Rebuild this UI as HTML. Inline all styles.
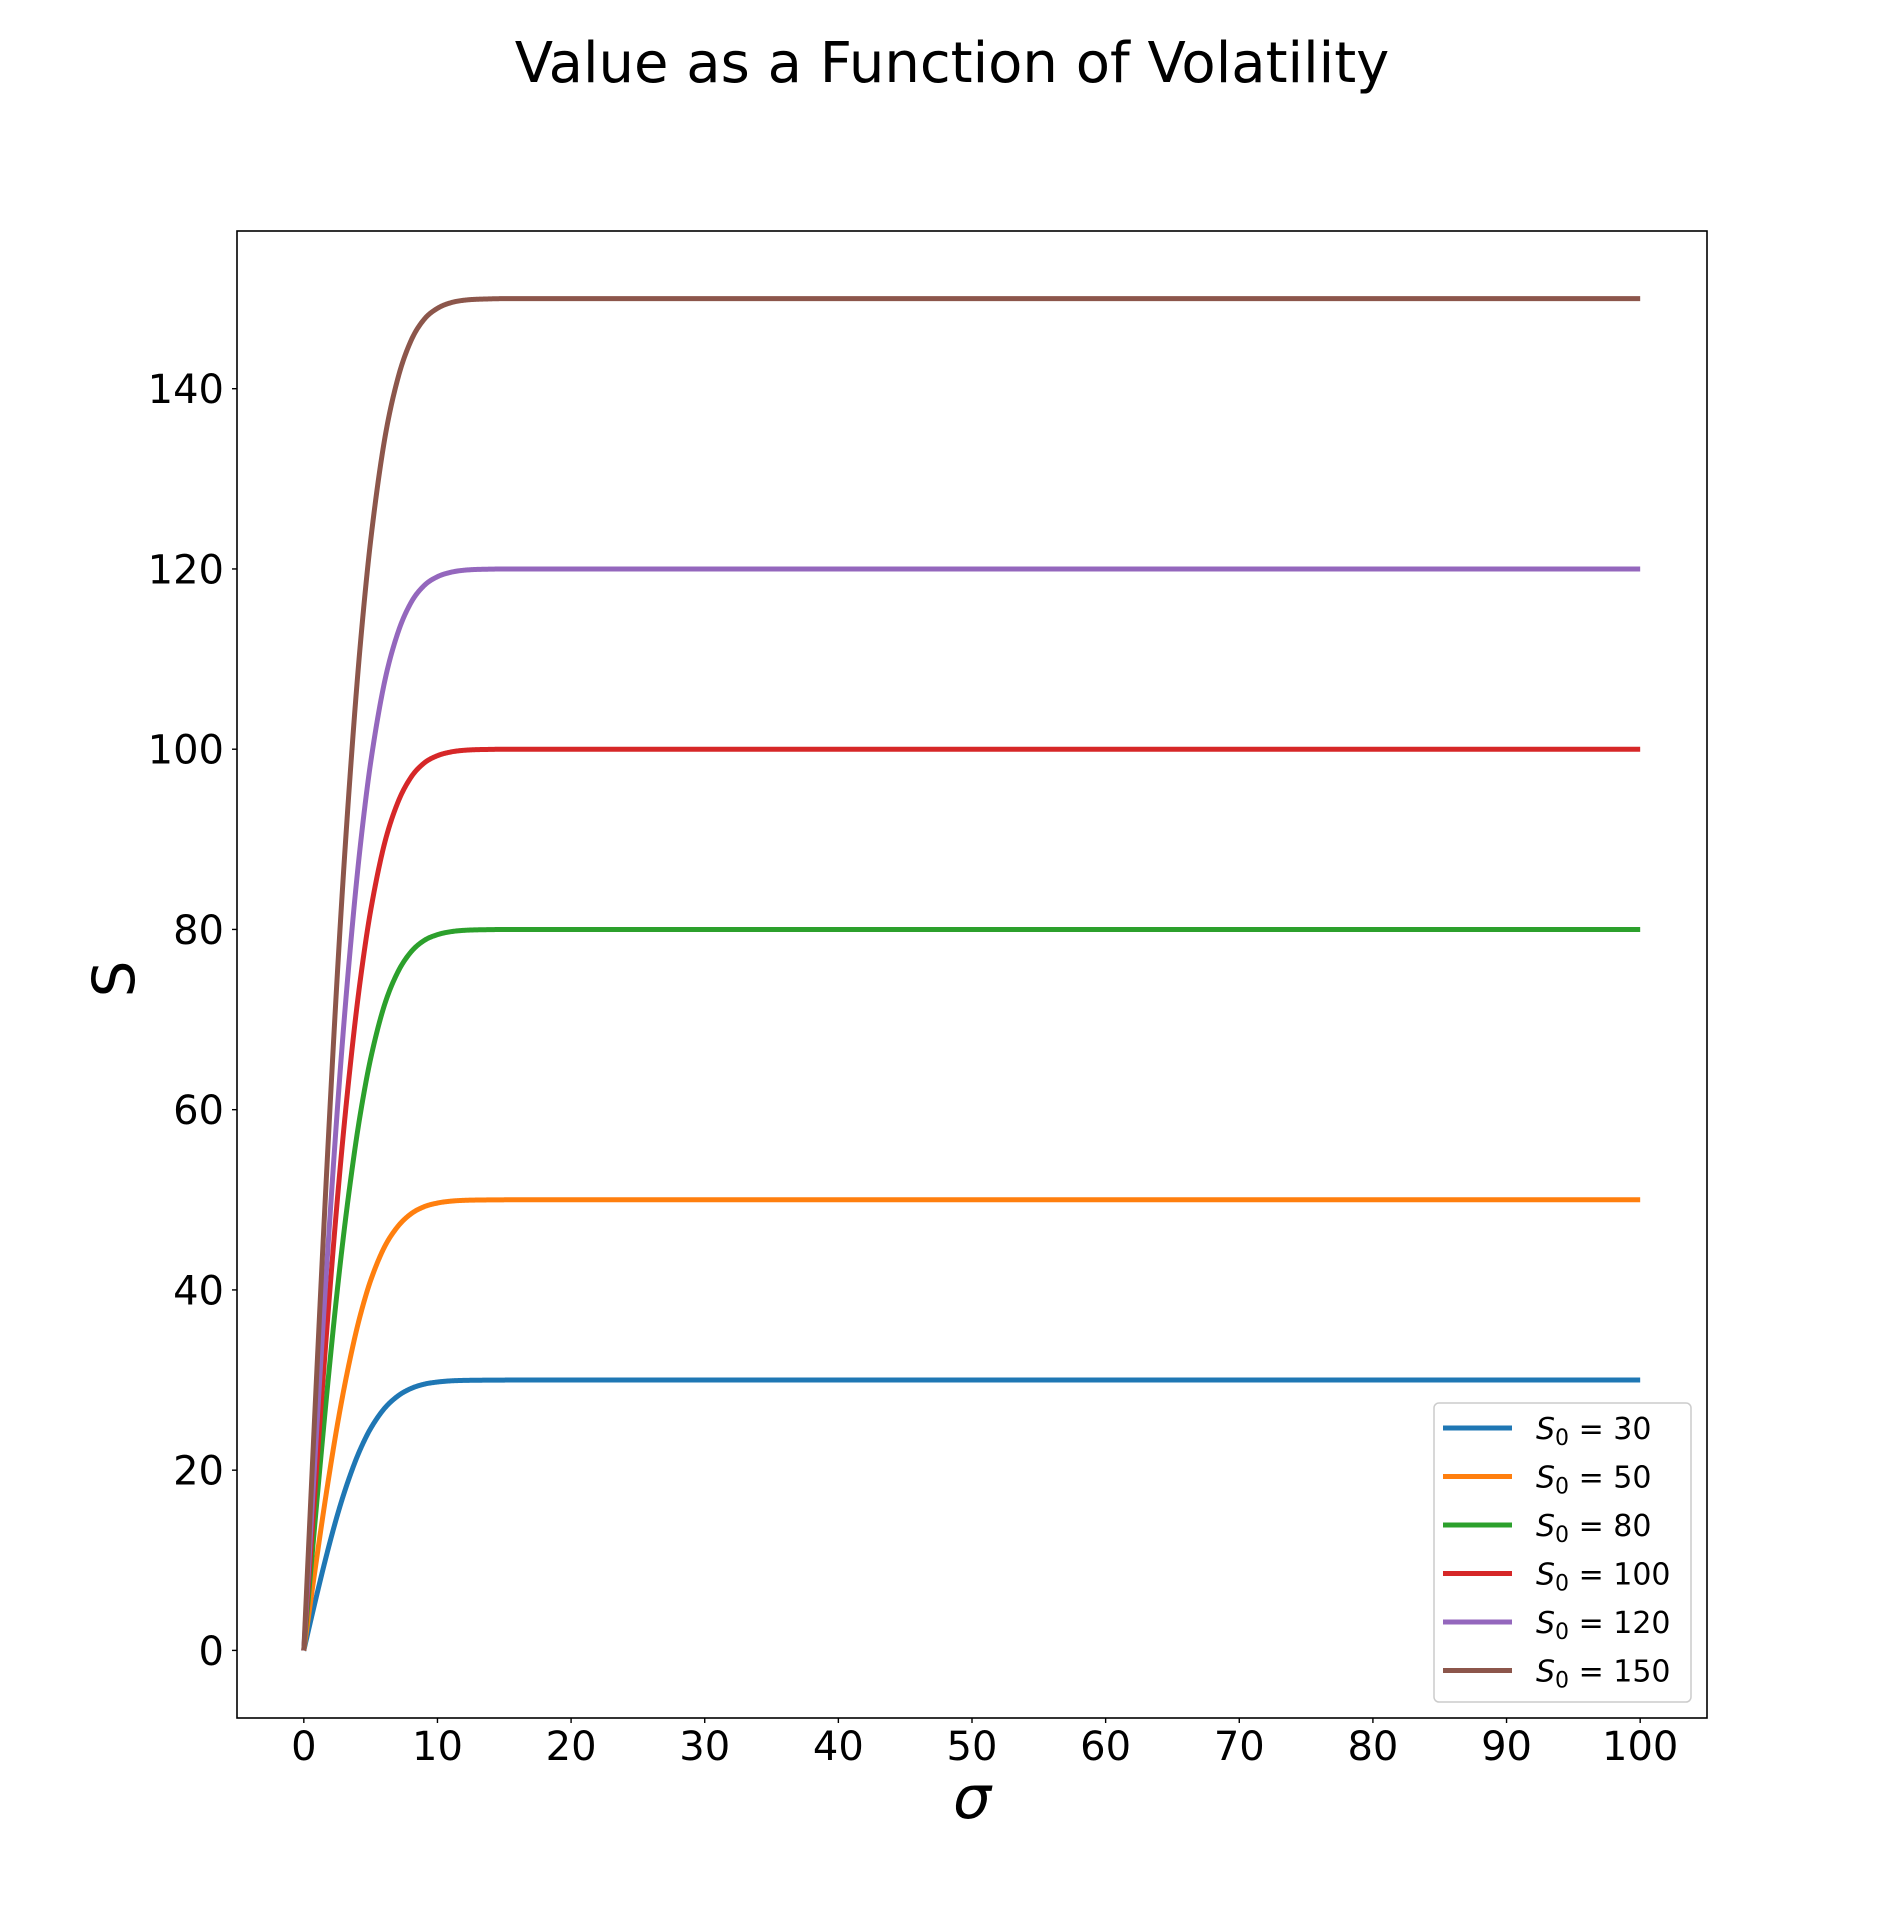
<!DOCTYPE html>
<html><head><meta charset="utf-8"><style>
html,body{margin:0;padding:0;background:#fff;}
svg{display:block;font-family:"DejaVu Sans","Liberation Sans",sans-serif;}
</style></head><body>
<svg id="chart" width="1897" height="1930" viewBox="0 0 1897 1930" xmlns="http://www.w3.org/2000/svg">
<text x="952" y="82" font-size="56" text-anchor="middle">Value as a Function of Volatility</text>
<g id="plot"></g>
<text x="972" y="1818" font-size="60" font-style="italic" text-anchor="middle">σ</text>
<text transform="translate(134,979) rotate(-90)" font-size="58" text-anchor="middle">S</text>
</svg>
<script>
const sigmas = [0,0.5,1,1.5,2,2.5,3,3.5,4,4.5,5,6,7,8,9,10,11,12,14,16,100];
const labels = ["30","50","80","100","120","150"];
const colors = ["#1f77b4","#ff7f0e","#2ca02c","#d62728","#9467bd","#8c564b"];
const s30 = [0,3.21,6.35,9.39,12.27,14.96,17.39,19.57,21.53,23.20,24.63,26.79,28.19,29.05,29.54,29.78,29.91,29.96,29.99,30,30];
const s50 = [0,5.35,10.59,15.66,20.45,24.94,28.99,32.62,35.88,38.67,41.05,44.66,46.98,48.42,49.23,49.64,49.85,49.94,49.99,50,50];
const s80 = [0,8.55,16.94,25.05,32.72,39.90,46.38,52.18,57.40,61.86,65.67,71.45,75.17,77.47,78.77,79.42,79.75,79.90,79.98,80,80];
const s100 = [0,10.69,21.18,31.31,40.90,49.87,57.98,65.23,71.75,77.33,82.09,89.31,93.96,96.84,98.46,99.28,99.69,99.88,99.98,100,100];
const s120 = [0,12.83,25.42,37.57,49.08,59.84,69.58,78.28,86.10,92.80,98.51,107.17,112.75,116.21,118.15,119.14,119.63,119.86,119.98,120,120];
const s150 = [0,16.04,31.77,46.97,61.35,74.81,86.97,97.85,107.63,116.00,123.14,133.97,140.94,145.26,147.69,148.92,149.54,149.82,149.97,150,150];
const xTicks = [0,10,20,30,40,50,60,70,80,90,100];
const yTicks = [0,20,40,60,80,100,120,140];

const series = [s30,s50,s80,s100,s120,s150];
const L=237,R=1707,T=231,B=1718;
const xMin=-5,xMax=105,yMin=-7.5,yMax=157.5;
const NS="http://www.w3.org/2000/svg";
function xs(v){return L+(v-xMin)/(xMax-xMin)*(R-L);}
function ys(v){return B-(v-yMin)/(yMax-yMin)*(B-T);}
const g=document.getElementById('plot');
function mk(tag,attrs,parent){const e=document.createElementNS(NS,tag);for(const k in attrs)e.setAttribute(k,attrs[k]);(parent||g).appendChild(e);return e;}

// monotone cubic (Fritsch-Carlson) interpolation in data space
function monotone(xv,yv){
  const n=xv.length,d=[],m=new Array(n);
  for(let i=0;i<n-1;i++)d.push((yv[i+1]-yv[i])/(xv[i+1]-xv[i]));
  m[0]=d[0];m[n-1]=d[n-2];
  for(let i=1;i<n-1;i++){m[i]=(d[i-1]*d[i]<=0)?0:(d[i-1]+d[i])/2;}
  for(let i=0;i<n-1;i++){
    if(d[i]===0){m[i]=0;m[i+1]=0;continue;}
    const a=m[i]/d[i],b=m[i+1]/d[i],s=a*a+b*b;
    if(s>9){const t=3/Math.sqrt(s);m[i]=t*a*d[i];m[i+1]=t*b*d[i];}
  }
  return function(x){
    let i=0;while(i<n-2&&x>xv[i+1])i++;
    const h=xv[i+1]-xv[i],t=(x-xv[i])/h,t2=t*t,t3=t2*t;
    return (2*t3-3*t2+1)*yv[i]+(t3-2*t2+t)*h*m[i]+(-2*t3+3*t2)*yv[i+1]+(t3-t2)*h*m[i+1];
  };
}

series.forEach((vals,si)=>{
  const f=monotone(sigmas,vals);
  const x0=sigmas[0],x1=sigmas[sigmas.length-1];
  let d='';
  const N=1200;
  for(let k=0;k<=N;k++){
    const sx=x0+(x1-x0)*Math.pow(k/N,2);
    d+=(k?' L':'M')+xs(sx).toFixed(2)+','+ys(f(sx)).toFixed(2);
  }
  const p=mk('path',{d:d,fill:'none',stroke:colors[si],'stroke-width':5,'stroke-linejoin':'round','stroke-linecap':'butt'});
  
  
});

// frame
const fr=mk('rect',{x:L,y:T,width:R-L,height:B-T,fill:'none',stroke:'#000','stroke-width':1.6});



xTicks.forEach(v=>{
  const x=xs(v);
  const tk=mk('line',{x1:x,y1:B,x2:x,y2:B+5,stroke:'#000','stroke-width':1.4});
  
  
  const t=mk('text',{x:x,y:1760,'font-size':40,'text-anchor':'middle'});
  t.textContent=v;
  
  
});
yTicks.forEach(v=>{
  const y=ys(v);
  const tk=mk('line',{x1:L-5,y1:y,x2:L,y2:y,stroke:'#000','stroke-width':1.4});
  
  
  const t=mk('text',{x:224,y:y+14.5,'font-size':40,'text-anchor':'end'});
  t.textContent=v;
  
  
});

const lg=mk('g',{});


mk('rect',{x:1434,y:1403,width:257,height:299,rx:5,fill:'#fff','fill-opacity':0.8,stroke:'#cccccc','stroke-width':1.5},lg);
labels.forEach((lab,i)=>{
  const y=1428+i*48.5;
  const e=mk('g',{},lg);
  
  
  mk('line',{x1:1443,y1:y,x2:1512,y2:y,stroke:colors[i],'stroke-width':5},e);
  const t=mk('text',{x:1536,y:y+11,'font-size':30},e);
  const a=mk('tspan',{'font-style':'italic'},t);a.textContent='S';
  const b=mk('tspan',{'font-size':22,dy:6},t);b.textContent='0';
  const c=mk('tspan',{dy:-6},t);c.textContent=' = '+lab;
});
</script>
</body></html>
